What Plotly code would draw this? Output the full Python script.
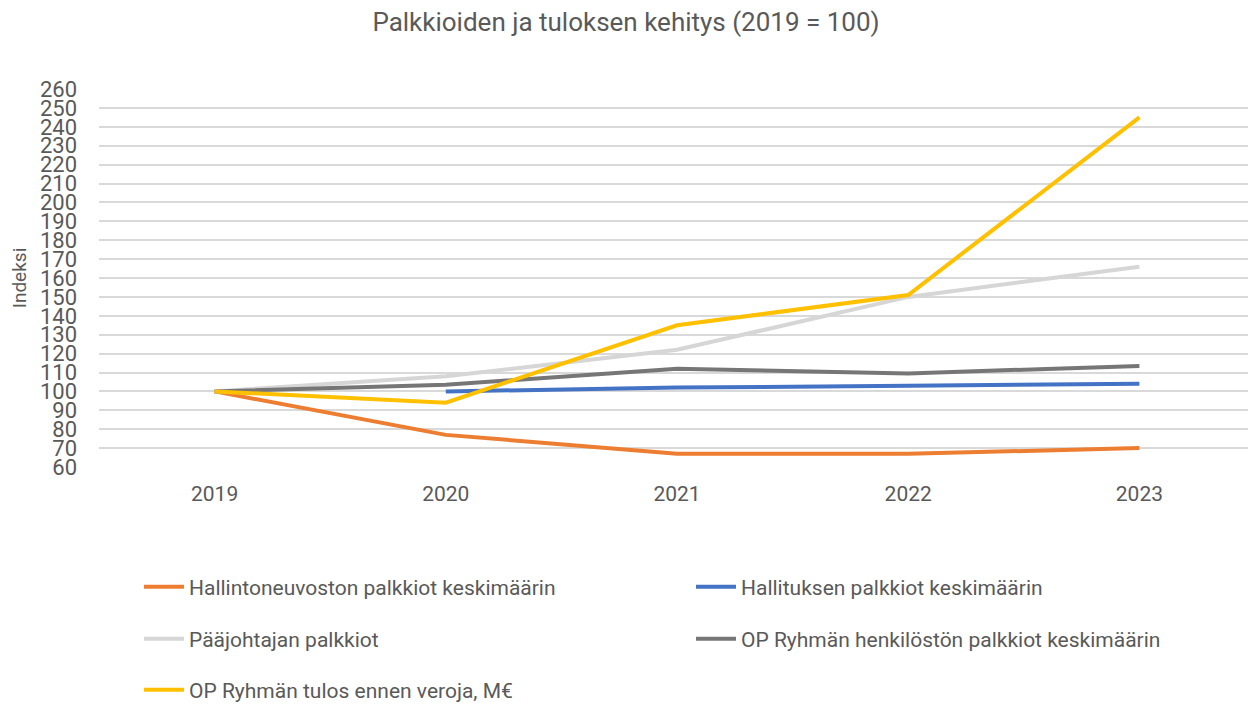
import plotly.graph_objects as go

years = ["2019", "2020", "2021", "2022", "2023"]
hallintoneuvosto = [100, 77, 67, 67, 70]
hallitus = [None, 100, 102, 103, 104]
paajohtaja = [100, 108, 122, 150, 166]
henkilosto = [100, 103.5, 112, 109.5, 113.5]
tulos = [100, 94, 135, 151, 245]

y_ticks = list(range(60, 261, 10))

series = [
    ("Hallintoneuvoston palkkiot keskimäärin", hallintoneuvosto, "#ED7D31"),
    ("Hallituksen palkkiot keskimäärin", hallitus, "#4472C4"),
    ("Pääjohtajan palkkiot", paajohtaja, "#D6D6D6"),
    ("OP Ryhmän henkilöstön palkkiot keskimäärin", henkilosto, "#767676"),
    ("OP Ryhmän tulos ennen veroja, M€", tulos, "#FFC000"),
]

FONT = "Roboto, Liberation Sans, sans-serif"
GREY = "#595959"

# page offset of the figure inside the browser page (default body margin)
OFF = 8
W, H = 1256 - OFF, 704 - OFF

# plot area in page pixels
P_LEFT, P_RIGHT, P_TOP, P_BOTTOM = 99, 1255, 89, 467
L = P_LEFT - OFF
T = P_TOP - OFF
R = W - (P_RIGHT - OFF)
B = H - (P_BOTTOM - OFF)
pw = W - L - R
ph = H - T - B

def px_y(y_page):
    return (P_BOTTOM - y_page) / ph

def px_x(x_page):
    return (x_page - P_LEFT) / pw

# legend entry positions (page pixels): column x, row y
legend_pos = [(139, 587), (691, 587), (139, 639), (691, 639), (139, 690)]
legend_keys = ["legend", "legend2", "legend3", "legend4", "legend5"]

fig = go.Figure()
for (name, vals, color), key in zip(series, legend_keys):
    fig.add_trace(go.Scatter(
        x=years, y=vals, name=name, mode="lines",
        line=dict(color=color, width=4),
        legend=key,
    ))

leg_layout = {}
for key, (lx, ly) in zip(legend_keys, legend_pos):
    leg_layout[key] = dict(
        orientation="h", xanchor="left", yanchor="middle",
        x=px_x(lx), y=px_y(ly),
        font=dict(family=FONT, size=21, color=GREY),
        bgcolor="rgba(0,0,0,0)", itemwidth=40,
    )

fig.update_layout(
    width=W, height=H,
    margin=dict(l=L, r=R, t=T, b=B, autoexpand=False),
    paper_bgcolor="white", plot_bgcolor="white",
    font=dict(family=FONT, color=GREY),
    title=dict(text="Palkkioiden ja tuloksen kehitys (2019 = 100)",
               x=(626 - OFF) / W, xanchor="center",
               y=1 - (22 - OFF) / H, yanchor="middle",
               font=dict(family=FONT, size=26, color=GREY)),
    xaxis=dict(type="category", range=[-0.5, 4.5], showgrid=False,
               showline=False, ticks="", tickfont=dict(size=21, color=GREY),
               ticklabelstandoff=12),
    yaxis=dict(range=[60, 260], tickvals=y_ticks, showgrid=True,
               gridcolor="#D9D9D9", gridwidth=1.5, zeroline=False,
               tickfont=dict(size=22, color=GREY), ticks="",
               ticklabelstandoff=21,
               title=dict(text="Indeksi", font=dict(size=19, color=GREY), standoff=14)),
    showlegend=True,
    **leg_layout,
)

fig.write_html("out.html")
